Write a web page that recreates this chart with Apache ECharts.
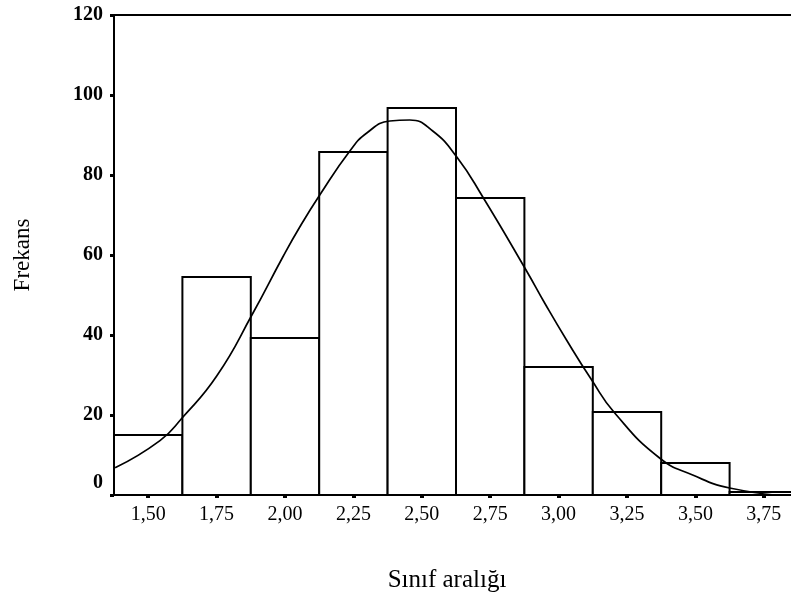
<!DOCTYPE html>
<html>
<head>
<meta charset="utf-8">
<script src="https://cdn.jsdelivr.net/npm/echarts@6/dist/echarts.min.js"></script>
<style>html,body{margin:0;padding:0;background:#fff;overflow:hidden;}#c{width:791px;height:603px;}</style>
</head>
<body>
<div id="c"></div>
<script>
// Histogram bin centres and frequencies
const binCenters = [1.50, 1.75, 2.00, 2.25, 2.50, 2.75, 3.00, 3.25, 3.50, 3.75];
const frequencies = [15, 54.5, 39.25, 85.75, 96.75, 74.25, 32, 20.75, 8, 0.75];
const binWidth = 0.25;
// Fitted curve
const curveX = [1.379, 1.543, 1.623, 1.751, 1.883, 1.992, 2.054, 2.127, 2.237, 2.299, 2.383, 2.456, 2.540, 2.628, 2.723, 2.883, 2.949, 3.029, 3.121, 3.205, 3.369, 3.490, 3.625, 3.844];
const curveY = [6.8, 13.6, 19.2, 29.8, 45.5, 59.5, 67, 75, 86, 90.5, 93.5, 93.75, 91, 84.5, 74.5, 56, 48, 38.75, 28.75, 20.5, 9.25, 5, 1.75, -0.3];
// Axis tick labels
const xTickValues = [1.50, 1.75, 2.00, 2.25, 2.50, 2.75, 3.00, 3.25, 3.50, 3.75];
const xTickLabels = ['1,50', '1,75', '2,00', '2,25', '2,50', '2,75', '3,00', '3,25', '3,50', '3,75'];
const yTickLabels = ['0', '20', '40', '60', '80', '100', '120'];
const xTitle = 'Sınıf aralığı';
const yTitle = 'Frekans';

const serif = '"Liberation Serif", "Times New Roman", serif';
const chart = echarts.init(document.getElementById('c'));
const barData = binCenters.map((c, i) => [c, frequencies[i]]);
const curveData = curveX.map((x, i) => [x, curveY[i]]);

chart.setOption({
  animation: false,
  backgroundColor: '#fff',
  grid: { left: 114, top: 15, height: 480, width: 684, outerBoundsMode: 'none', containLabel: false, show: true, borderColor: '#000', borderWidth: 2, backgroundColor: 'transparent' },
  xAxis: {
    type: 'value', min: 1.375, max: 3.875,
    splitLine: { show: false },
    axisLine: { show: true, onZero: false, lineStyle: { color: '#000', width: 2 } },
    axisTick: { show: true, customValues: xTickValues, length: 3, lineStyle: { color: '#000', width: 4 } },
    axisLabel: {
      customValues: xTickValues, margin: 10,
      color: '#000', fontFamily: serif, fontSize: 20,
      formatter: v => { const i = xTickValues.findIndex(t => Math.abs(t - v) < 1e-6); return i >= 0 ? xTickLabels[i] : ''; }
    }
  },
  yAxis: {
    type: 'value', min: 0, max: 120, interval: 20,
    splitLine: { show: false },
    axisLine: { show: true, lineStyle: { color: '#000', width: 2 } },
    axisTick: { show: true, length: 4, lineStyle: { color: '#000', width: 3 } },
    axisLabel: {
      margin: 11, color: '#000', fontFamily: serif, fontSize: 20, fontWeight: 'bold',
      formatter: v => { const s = yTickLabels[Math.round(v / 20)]; return v === 0 ? '{z|' + s + '}' : s; },
      rich: { z: { fontFamily: serif, fontSize: 20, fontWeight: 'bold', color: '#000', padding: [0, 0, 24, 0] } }
    },
    name: yTitle, nameLocation: 'middle', nameGap: 80, nameRotate: 90,
    nameTextStyle: { fontFamily: serif, fontSize: 23, color: '#000' }
  },
  graphic: [{
    type: 'text', x: 447, y: 580,
    style: { text: xTitle, font: '25px "Liberation Serif", serif', fill: '#000', textAlign: 'center', textVerticalAlign: 'middle' }
  }],
  series: [
    {
      type: 'custom',
      data: barData,
      clip: true,
      renderItem: (params, api) => {
        const c = api.value(0), f = api.value(1);
        const p0 = api.coord([c - binWidth / 2, 0]);
        const p1 = api.coord([c + binWidth / 2, f]);
        return {
          type: 'rect',
          shape: { x: p0[0], y: p1[1], width: p1[0] - p0[0], height: p0[1] - p1[1] },
          style: { fill: '#fff', stroke: '#000', lineWidth: 2 }
        };
      },
      z: 2
    },
    {
      type: 'line', data: curveData, smooth: 0.5, showSymbol: false, symbol: 'none',
      lineStyle: { color: '#000', width: 1.7 }, z: 3
    }
  ]
});
</script>
</body>
</html>
